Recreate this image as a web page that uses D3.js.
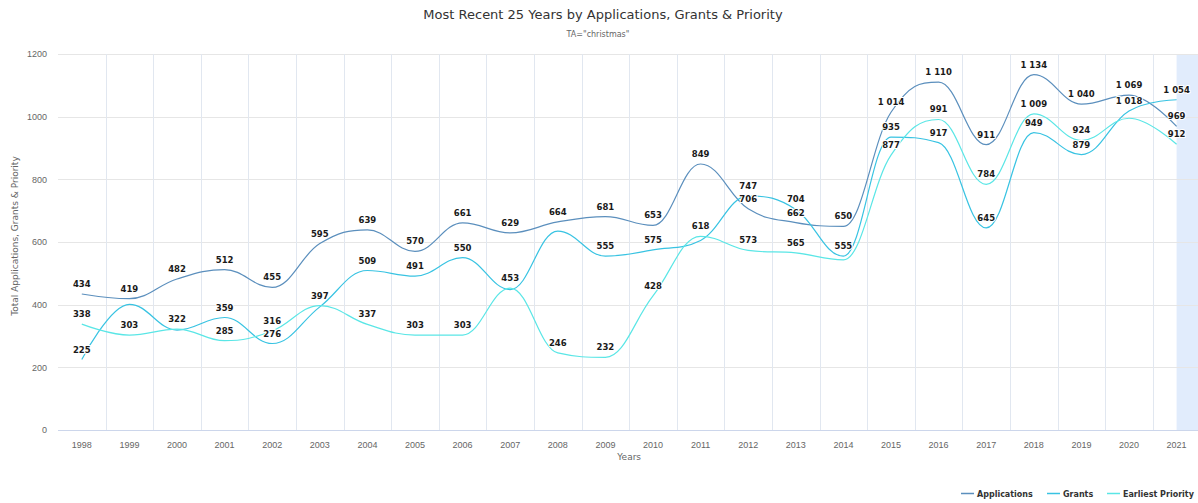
<!DOCTYPE html>
<html>
<head>
    <style>
        body {
            margin: 0;
            background: #ffffff;
            font-family: "Lucida Grande", "DejaVu Sans", Arial, sans-serif;
        }
        .grid line {
            stroke: #e6e6e6;
            stroke-width: 1px;
        }
        .vgrid line {
            stroke: #e1e7f0;
            stroke-width: 1px;
        }
        .series path {
            fill: none;
            stroke-width: 1.2px;
        }
        .dlabel {
            font-size: 8.5px;
            font-weight: bold;
            fill: #1a1a1a;
            text-anchor: middle;
            stroke: #fff;
            stroke-width: 2px;
            paint-order: stroke;
            stroke-linejoin: round;
        }
        .axis text {
            fill: #666;
            font-size: 9px;
        }
    </style>
</head>
<body>
    <div id="chart"></div>

    <script src="https://d3js.org/d3.v7.min.js"></script>
    <script>
        // data
        var years = ["1998","1999","2000","2001","2002","2003","2004","2005","2006","2007","2008","2009",
                     "2010","2011","2012","2013","2014","2015","2016","2017","2018","2019","2020","2021"];
        var applications = [434, 419, 482, 512, 455, 595, 639, 570, 661, 629, 664, 681,
                            653, 849, 706, 662, 650, 1014, 1110, 911, 1134, 1040, 1069, 969];
        var grants = [225, 401, 319, 359, 276, 393, 509, 491, 550, 448, 635, 555,
                      575, 605, 747, 704, 555, 935, 917, 645, 949, 879, 1018, 1054];
        var earliestPriority = [338, 303, 322, 285, 316, 397, 337, 303, 303, 453, 246, 232,
                                428, 618, 573, 565, 543, 877, 991, 784, 1009, 924, 995, 912];
        var yTicks = [0, 200, 400, 600, 800, 1000, 1200];

        var seriesList = [
            {name: "Applications", values: applications, color: "#5b8fbd"},
            {name: "Grants", values: grants, color: "#38c3e2"},
            {name: "Earliest Priority", values: earliestPriority, color: "#5ae6e6"}
        ];

        var W = 1198, H = 503;
        var margin = {top: 54, left: 58, bottom: 73};
        var step = 47.6;

        var svg = d3.select("#chart").append("svg")
            .attr("width", W)
            .attr("height", H);

        var x = d3.scaleBand()
            .domain(years)
            .range([margin.left, margin.left + step * years.length]);

        var y = d3.scaleLinear()
            .domain([0, 1200])
            .range([H - margin.bottom, margin.top]);

        var plotRight = x.range()[1];

        // hovered category band (2021)
        svg.append("rect")
            .attr("x", x("2021") + x.bandwidth() / 2)
            .attr("y", y(1200))
            .attr("width", plotRight - x("2021") - x.bandwidth() / 2)
            .attr("height", y(0) - y(1200))
            .attr("fill", "#e1ecfc");

        // horizontal grid
        svg.append("g").attr("class", "grid")
            .selectAll("line")
            .data(yTicks)
            .enter().append("line")
            .attr("x1", margin.left)
            .attr("x2", plotRight)
            .attr("y1", function(d) { return Math.round(y(d)) + 0.5; })
            .attr("y2", function(d) { return Math.round(y(d)) + 0.5; });

        // vertical grid on category boundaries
        svg.append("g").attr("class", "vgrid")
            .selectAll("line")
            .data(years.slice(1))
            .enter().append("line")
            .attr("x1", function(d) { return Math.round(x(d)) + 0.5; })
            .attr("x2", function(d) { return Math.round(x(d)) + 0.5; })
            .attr("y1", y(1200))
            .attr("y2", y(0));

        // y axis labels
        var yAxis = svg.append("g").attr("class", "axis")
            .attr("transform", "translate(" + (margin.left - 11) + ",0)")
            .call(d3.axisLeft(y).tickValues(yTicks).tickSize(0).tickPadding(0).tickFormat(d3.format("d")));
        yAxis.select(".domain").remove();
        yAxis.selectAll("text").attr("dy", "0.32em");

        // x axis
        var xAxis = svg.append("g").attr("class", "axis")
            .attr("transform", "translate(0," + y(0) + ")")
            .call(d3.axisBottom(x).tickSize(0).tickPadding(12));
        xAxis.select(".domain").attr("stroke", "#ccd6eb").attr("d", "M" + margin.left + ",0.5H" + plotRight);

        // axis titles
        svg.append("text")
            .attr("x", (margin.left + plotRight) / 2)
            .attr("y", 460)
            .attr("text-anchor", "middle")
            .attr("fill", "#666")
            .attr("font-size", "9px")
            .text("Years");

        svg.append("text")
            .attr("transform", "translate(18,236) rotate(-90)")
            .attr("text-anchor", "middle")
            .attr("fill", "#666")
            .attr("font-size", "9px")
            .text("Total Applications, Grants & Priority");

        // title and subtitle
        svg.append("text")
            .attr("x", 603)
            .attr("y", 19)
            .attr("text-anchor", "middle")
            .attr("fill", "#333")
            .attr("font-size", "13px")
            .text("Most Recent 25 Years by Applications, Grants & Priority");

        svg.append("text")
            .attr("x", 598)
            .attr("y", 37)
            .attr("text-anchor", "middle")
            .attr("fill", "#666")
            .attr("font-size", "8px")
            .text('TA="christmas"');

        // spline like highcharts
        function splinePath(pts) {
            var smoothing = 1.5, denom = smoothing + 1;
            var ctrl = pts.map(function(p) { return {lx: p[0], ly: p[1], rx: p[0], ry: p[1]}; });
            for (var i = 1; i < pts.length - 1; i++) {
                var px = pts[i][0], py = pts[i][1];
                var lastX = pts[i-1][0], lastY = pts[i-1][1];
                var nextX = pts[i+1][0], nextY = pts[i+1][1];
                var lcx = (smoothing * px + lastX) / denom, lcy = (smoothing * py + lastY) / denom;
                var rcx = (smoothing * px + nextX) / denom, rcy = (smoothing * py + nextY) / denom;
                var corr = ((rcy - lcy) * (rcx - px)) / (rcx - lcx) + py - rcy;
                lcy += corr; rcy += corr;
                if (lcy > lastY && lcy > py) { lcy = Math.max(lastY, py); rcy = 2 * py - lcy; }
                else if (lcy < lastY && lcy < py) { lcy = Math.min(lastY, py); rcy = 2 * py - lcy; }
                if (rcy > nextY && rcy > py) { rcy = Math.max(nextY, py); lcy = 2 * py - rcy; }
                else if (rcy < nextY && rcy < py) { rcy = Math.min(nextY, py); lcy = 2 * py - rcy; }
                ctrl[i] = {lx: lcx, ly: lcy, rx: rcx, ry: rcy};
            }
            var d = "M" + pts[0][0] + "," + pts[0][1];
            for (var j = 1; j < pts.length; j++) {
                d += "C" + ctrl[j-1].rx + "," + ctrl[j-1].ry + " " + ctrl[j].lx + "," + ctrl[j].ly + " " + pts[j][0] + "," + pts[j][1];
            }
            return d;
        }

        var cx = function(i) { return x(years[i]) + x.bandwidth() / 2; };

        var lines = svg.append("g").attr("class", "series");
        seriesList.forEach(function(s) {
            var pts = s.values.map(function(v, i) { return [cx(i), y(v)]; });
            lines.append("path")
                .attr("d", splinePath(pts))
                .attr("stroke", s.color);
        });

        // data labels, higher value wins when labels overlap
        var fmt = function(v) { return d3.format(",")(v).replace(/,/g, " "); };
        var labelData = [];
        seriesList.forEach(function(s) {
            s.values.forEach(function(v, i) {
                labelData.push({v: v, i: i});
            });
        });

        var labelG = svg.append("g");
        var labels = labelG.selectAll("text")
            .data(labelData)
            .enter().append("text")
            .attr("class", "dlabel")
            .attr("x", function(d) { return cx(d.i); })
            .attr("y", function(d) { return y(d.v) - 7; })
            .text(function(d) { return fmt(d.v); });

        labels.each(function(d) { d.box = this.getBBox(); });
        var order = labelData.slice().sort(function(a, b) { return b.v - a.v; });
        var shown = [];
        order.forEach(function(d) {
            var hit = shown.some(function(o) {
                return d.box.x < o.box.x + o.box.width && o.box.x < d.box.x + d.box.width &&
                       d.box.y < o.box.y + o.box.height && o.box.y < d.box.y + d.box.height;
            });
            if (hit) d.hidden = true; else shown.push(d);
        });
        labels.filter(function(d) { return d.hidden; }).remove();

        // legend
        var legendX = [961, 1047, 1107];
        var legend = svg.append("g");
        seriesList.forEach(function(s, k) {
            legend.append("line")
                .attr("x1", legendX[k]).attr("x2", legendX[k] + 13)
                .attr("y1", 493.5).attr("y2", 493.5)
                .attr("stroke", s.color)
                .attr("stroke-width", 1.5);
            legend.append("text")
                .attr("x", legendX[k] + 16)
                .attr("y", 496.5)
                .attr("fill", "#333")
                .attr("font-size", "8px")
                .attr("font-weight", "bold")
                .text(s.name);
        });
    </script>
</body>
</html>
